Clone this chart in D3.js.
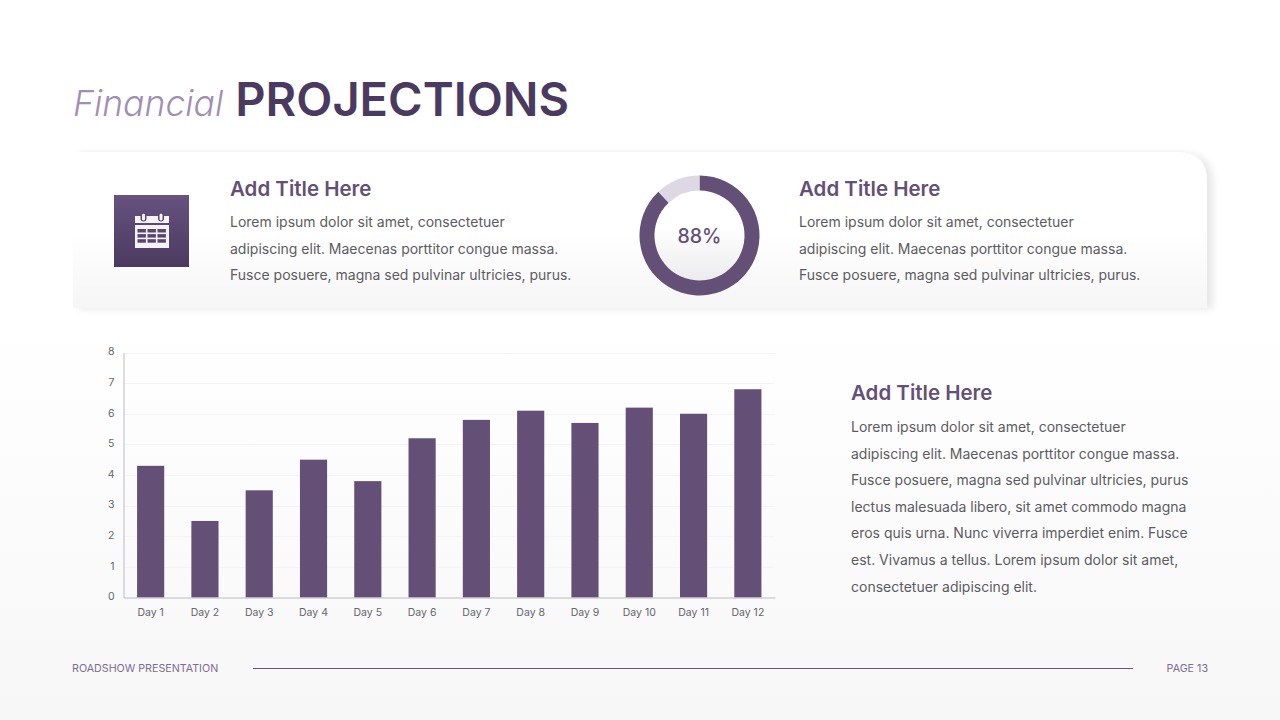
<!DOCTYPE html>
<html>
<head>
<meta charset="utf-8">
<script src="https://cdn.jsdelivr.net/npm/d3@7/dist/d3.min.js"></script>
<style>
  html, body { margin: 0; padding: 0; background: #fff; }
  svg { display: block; }
  text { font-family: Inter, "Noto Sans", sans-serif; }
</style>
</head>
<body>
<div id="chart"></div>
<script>
// chart data
const days = ['Day 1', 'Day 2', 'Day 3', 'Day 4', 'Day 5', 'Day 6', 'Day 7', 'Day 8', 'Day 9', 'Day 10', 'Day 11', 'Day 12'];
const dayValues = [4.3, 2.5, 3.5, 4.5, 3.8, 5.2, 5.8, 6.1, 5.7, 6.2, 6.0, 6.8];
const yTicks = [0, 1, 2, 3, 4, 5, 6, 7, 8];
const donutValues = [88, 12];
const donutLabel = '88%';

// copy
const cardTitle = 'Add Title Here';
const leftLines = ['Lorem ipsum dolor sit amet, consectetuer', 'adipiscing elit. Maecenas porttitor congue massa.', 'Fusce posuere, magna sed pulvinar ultricies, purus.'];
const sideLines = ['Lorem ipsum dolor sit amet, consectetuer', 'adipiscing elit. Maecenas porttitor congue massa.', 'Fusce posuere, magna sed pulvinar ultricies, purus',
  'lectus malesuada libero, sit amet commodo magna', 'eros quis urna. Nunc viverra imperdiet enim. Fusce', 'est. Vivamus a tellus. Lorem ipsum dolor sit amet,', 'consectetuer adipiscing elit.'];

const purple = '#645076';
const dark = '#4b3a5f';
const grey = '#5c5c60';
const iconWhite = '#f5f3f7';
const iconDark = '#584670';

const svg = d3.select('#chart').append('svg').attr('width', 1280).attr('height', 720);
const defs = svg.append('defs');

function vGrad(id, stops) {
  const g = defs.append('linearGradient').attr('id', id).attr('x1', 0).attr('y1', 0).attr('x2', 0).attr('y2', 1);
  stops.forEach(s => g.append('stop').attr('offset', s[0]).attr('stop-color', s[1]));
}
vGrad('bgGrad', [[0, '#ffffff'], [0.45, '#ffffff'], [1, '#f7f7f8']]);
vGrad('cardGrad', [[0, '#ffffff'], [0.5, '#ffffff'], [1, '#f6f6f7']]);
vGrad('iconGrad', [[0, '#675280'], [1, '#4b3a5f']]);
vGrad('holeGrad', [[0, '#ffffff'], [0.4, '#ffffff'], [1, '#ececee']]);

const shadow = defs.append('filter').attr('id', 'cardShadow').attr('x', '-5%').attr('y', '-15%').attr('width', '110%').attr('height', '130%');
shadow.append('feDropShadow').attr('dx', 6).attr('dy', 1).attr('stdDeviation', 3.5).attr('flood-color', '#000').attr('flood-opacity', 0.09);

// background
svg.append('rect').attr('width', 1280).attr('height', 720).attr('fill', 'url(#bgGrad)');

// heading
const heading = svg.append('text').attr('x', 73).attr('y', 116);
heading.append('tspan').attr('font-size', 35.5).attr('font-style', 'italic').attr('font-weight', 300).attr('fill', '#a08fb4').text('Financial');
heading.append('tspan').attr('dx', 12).attr('font-size', 47).attr('font-weight', 600).attr('fill', dark).text('PROJECTIONS');

// top card, only the top right corner is rounded
svg.append('path')
  .attr('d', 'M73,152 H1177 Q1207,152 1207,182 V308 H73 Z')
  .attr('fill', 'url(#cardGrad)')
  .attr('filter', 'url(#cardShadow)');

function textBlock(x, titleY, firstY, step, lines, size) {
  svg.append('text').attr('x', x).attr('y', titleY).attr('font-size', 20.5).attr('font-weight', 600).attr('fill', purple).text(cardTitle);
  svg.append('g').selectAll('text').data(lines).join('text')
    .attr('x', x)
    .attr('y', (d, i) => firstY + i * step)
    .attr('font-size', size)
    .attr('fill', grey)
    .text(d => d);
}
textBlock(230, 196, 227, 26.6, leftLines, 14);
textBlock(799, 196, 227, 26.6, leftLines, 14);
textBlock(851, 400, 432, 26.6, sideLines, 14);

// calendar icon
const icon = svg.append('g');
icon.append('rect').attr('x', 114).attr('y', 195).attr('width', 75).attr('height', 72).attr('fill', 'url(#iconGrad)');
icon.append('rect').attr('x', 135).attr('y', 216).attr('width', 34).attr('height', 7).attr('fill', iconWhite);
icon.append('rect').attr('x', 135).attr('y', 225).attr('width', 34).attr('height', 23).attr('fill', iconWhite);
[140.5, 158].forEach(x => {
  icon.append('rect').attr('x', x).attr('y', 212.5).attr('width', 6).attr('height', 9).attr('rx', 3).attr('fill', iconDark);
  icon.append('rect').attr('x', x + 1.5).attr('y', 213.5).attr('width', 3).attr('height', 7).attr('rx', 1.5).attr('fill', iconWhite);
});
d3.range(3).forEach(r => d3.range(3).forEach(c => {
  icon.append('rect').attr('x', 137.5 + c * 10).attr('y', 229 + r * 5.1).attr('width', 8.4).attr('height', 3.5).attr('fill', iconDark);
}));

// donut
const donutG = svg.append('g').attr('transform', 'translate(699.5,235.5)');
donutG.append('circle').attr('r', 45).attr('fill', 'url(#holeGrad)');
const pie = d3.pie().sort(null)(donutValues);
const arc = d3.arc().innerRadius(45).outerRadius(60);
donutG.selectAll('path').data(pie).join('path')
  .attr('d', arc)
  .attr('fill', (d, i) => i === 0 ? purple : '#ddd8e3');
donutG.append('text').attr('text-anchor', 'middle').attr('y', 7).attr('font-size', 19.5).attr('font-weight', 500).attr('fill', purple).text(donutLabel);

// bar chart
const margin = { left: 123.5, right: 505, top: 352.5, bottom: 122.5 };
const x = d3.scaleBand().domain(days).range([margin.left, 1280 - margin.right]).paddingInner(0.5).paddingOuter(0.25);
const y = d3.scaleLinear().domain([0, 8]).range([720 - margin.bottom, margin.top]);

svg.append('g').selectAll('line').data(yTicks.slice(1)).join('line')
  .attr('x1', margin.left).attr('x2', 1280 - margin.right)
  .attr('y1', d => Math.round(y(d)) + 0.5).attr('y2', d => Math.round(y(d)) + 0.5)
  .attr('stroke', '#f4f4f6');

svg.append('g').selectAll('rect').data(dayValues).join('rect')
  .attr('x', (d, i) => x(days[i]))
  .attr('y', d => y(d))
  .attr('width', x.bandwidth())
  .attr('height', d => y(0) - y(d))
  .attr('fill', purple);

const yAxis = svg.append('g').attr('transform', `translate(${margin.left},0)`)
  .call(d3.axisLeft(y).tickValues(yTicks).tickSize(0).tickPadding(9));
const xAxis = svg.append('g').attr('transform', `translate(0,${y(0)})`)
  .call(d3.axisBottom(x).tickSize(0).tickPadding(11));
[yAxis, xAxis].forEach(a => {
  a.select('.domain').attr('stroke', '#bdbac2').attr('stroke-width', 1);
  a.selectAll('text').attr('font-family', 'Inter, sans-serif').attr('font-size', 10.5).attr('fill', '#66666a');
});
yAxis.selectAll('text').attr('dy', '0.22em');

// footer
svg.append('text').attr('x', 72).attr('y', 672).attr('font-size', 10.7).attr('fill', '#7d6c92').text('ROADSHOW PRESENTATION');
svg.append('line').attr('x1', 253).attr('x2', 1133).attr('y1', 668.5).attr('y2', 668.5).attr('stroke', '#67567c').attr('stroke-width', 1);
svg.append('text').attr('x', 1208).attr('y', 672).attr('text-anchor', 'end').attr('font-size', 10.7).attr('fill', '#7d6c92').text('PAGE 13');
</script>
</body>
</html>
